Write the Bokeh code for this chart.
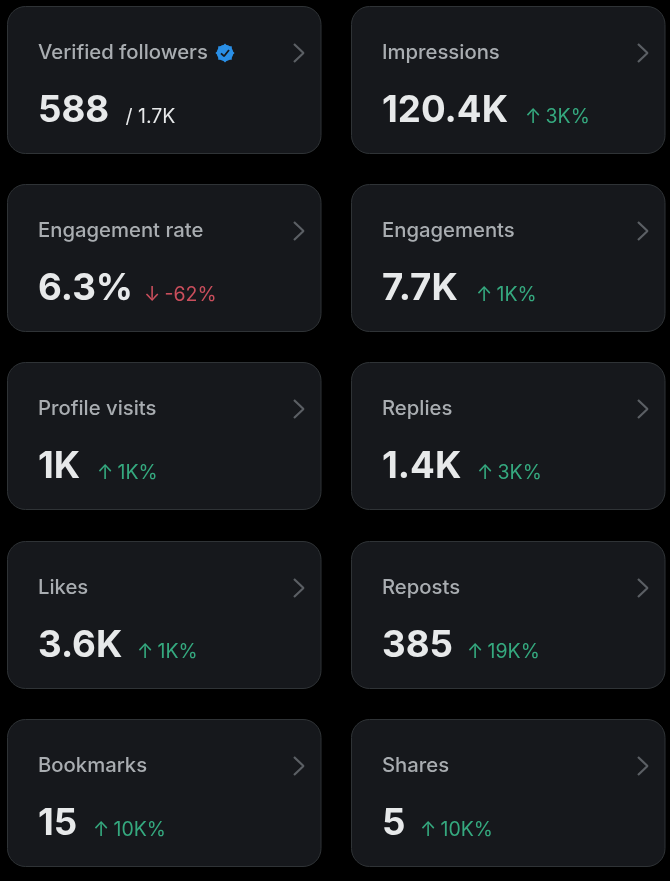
from bokeh.plotting import figure
from bokeh.models import Range1d
from bokeh.core.properties import value
from bokeh.embed import file_html
from bokeh.resources import INLINE

titles = ["Verified followers", "Impressions", "Engagement rate", "Engagements", "Profile visits",
          "Replies", "Likes", "Reposts", "Bookmarks", "Shares"]
values = ["588", "120.4K", "6.3%", "7.7K", "1K", "1.4K", "3.6K", "385", "15", "5"]
arrows = ["", "↑", "↓", "↑", "↑", "↑", "↑", "↑", "↑", "↑"]
deltas = ["/ 1.7K", "3K%", "-62%", "1K%", "1K%", "3K%", "1K%", "19K%", "10K%", "10K%"]

# layout (pixels of the page)
W, H = 670, 881
row_tops = [6, 184, 362, 541, 719]
col_lefts = [7, 351]
card_w, card_h = 313.5, 147
delta_starts = [125, 526, 145, 477, 98, 478, 138, 468, 94, 421]
BASE = 0.38  # the renderer's baseline shift, in em

BG, CARD, EDGE = "#000000", "#16181c", "#2f3336"
TITLE, VALUE, CHEV = "#a9adb1", "#e7e9ea", "#5b5f64"
GREEN, RED, BLUE = "#35a97f", "#c94e5c", "#2a8fe6"

p = figure(width=W + 2, height=H + 2, output_backend="svg", toolbar_location=None,
           x_range=Range1d(-1, W + 1), y_range=Range1d(H + 1, -1), min_border=0,
           background_fill_color=BG, border_fill_color=BG, outline_line_color=None,
           x_axis_location=None, y_axis_location=None)
p.grid.visible = False
p.styles = {"position": "fixed", "left": "-1px", "top": "-1px"}

n = len(titles)
cx = [col_lefts[i % 2] for i in range(n)]
cy = [row_tops[i // 2] for i in range(n)]

p.quad(left=cx, right=[x + card_w for x in cx], top=cy, bottom=[y + card_h for y in cy],
       fill_color=CARD, line_color=EDGE, line_width=1, border_radius=18)

ts, vs, ds = 20.3, 36.7, 19.5
p.text(x=[x + 30.5 for x in cx], y=[y + 53 - BASE * ts for y in cy], text=titles, text_color=TITLE,
       text_font=value("Inter Medium"), text_font_size=f"{ts}px", text_baseline="alphabetic")
p.text(x=[x + 30.5 for x in cx], y=[y + 116 - BASE * vs for y in cy], text=values, text_color=VALUE,
       text_font=value("Inter"), text_font_style="bold", text_font_size=f"{vs}px", text_baseline="alphabetic")

delta_colors = [VALUE if a == "" else RED if a == "↓" else GREEN for a in arrows]
label_x = [s if a == "" else s + 19 for s, a in zip(delta_starts, arrows)]
p.text(x=label_x, y=[y + 116.5 - BASE * ds for y in cy], text=deltas, text_color=delta_colors,
       text_font=value("Inter"), text_font_size=f"{ds}px", text_baseline="alphabetic")
p.text(x=[s - 1.5 for s in delta_starts], y=[y + 116.5 - BASE * ds for y in cy], text=arrows, text_color=delta_colors,
       text_font=value("Inter"), text_font_size=f"{ds}px", text_baseline="alphabetic")

# chevrons
chev_x = [[x + 286.5, x + 296, x + 286.5] for x in cx]
chev_y = [[y + 37.5, y + 46.5, y + 55.5] for y in cy]
p.multi_line(chev_x, chev_y, line_color=CHEV, line_width=2.2)

# verified badge
bx, by = 224.5, 52.5
p.scatter([bx], [by], marker="circle", size=16.5, fill_color=BLUE, line_color=None)
p.scatter([bx, bx], [by, by], marker="square", size=13.5, angle=[0, 0.785],
          fill_color=BLUE, line_color=None)
p.line([bx - 4, bx - 1, bx + 4], [by + 0.3, by + 3.2, by - 3], line_color="#16181c", line_width=1.8)

open("out.html", "w").write(file_html(p, INLINE))
